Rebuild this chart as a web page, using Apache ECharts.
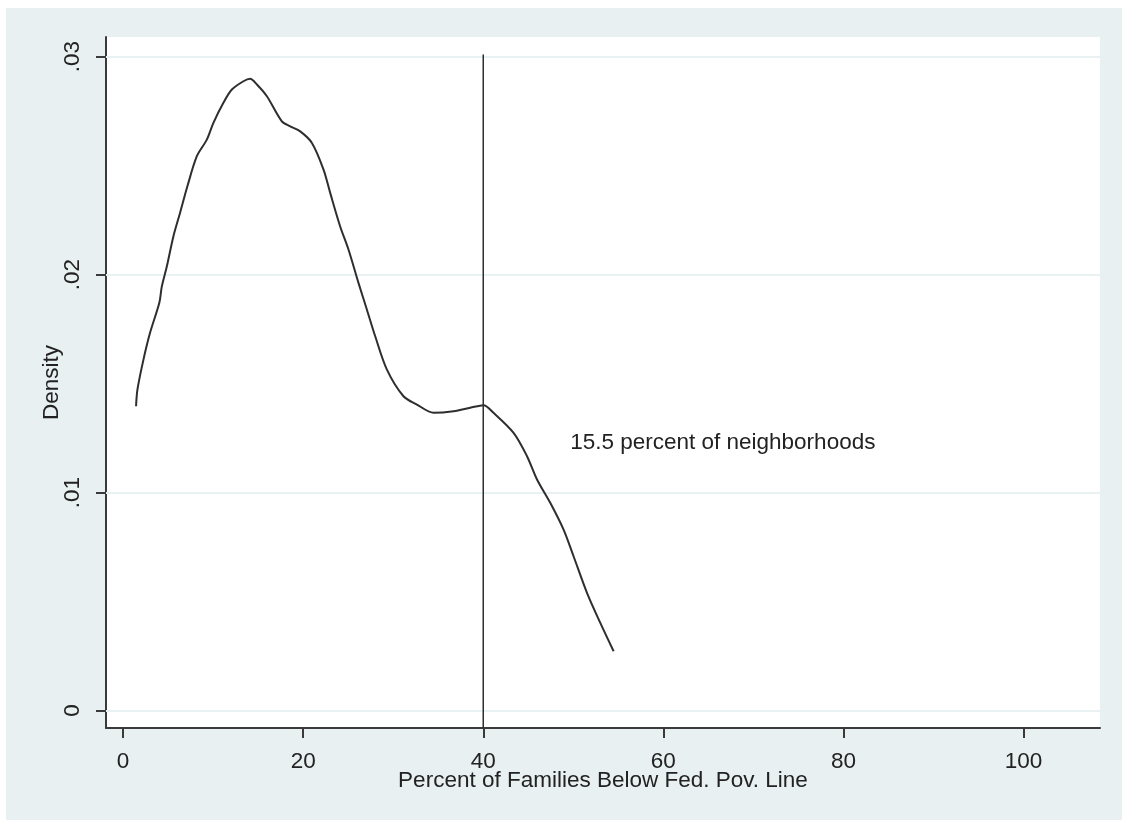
<!DOCTYPE html>
<html>
<head>
<meta charset="utf-8">
<script src="https://cdn.jsdelivr.net/npm/echarts@6/dist/echarts.min.js"></script>
<style>
html,body{margin:0;padding:0;background:#fff;}
#bg{position:absolute;left:6px;top:8px;width:1116px;height:812px;background:#e8f0f2;}
#chart{position:absolute;left:0;top:0;width:1122px;height:820px;}
</style>
</head>
<body>
<div id="bg"></div>
<div id="chart"></div>
<script>
// Kernel density estimate: percent of families below federal poverty line
const densityX = [1.44,1.59,2.26,3.0,4.03,4.3,4.86,5.59,6.33,7.14,8.19,9.3,10.03,11.14,12.08,13.37,14.11,14.86,15.97,17.63,18.56,19.67,20.97,22.26,23.0,24.1,25.03,26.14,27.08,28.0,29.3,31.14,32.63,34.48,36.7,38.56,40.03,41.14,43.37,44.86,45.97,47.44,48.92,50.03,51.52,53.0,54.48];
const densityY = [0.01396,0.01472,0.01610,0.01734,0.01872,0.01946,0.02038,0.02176,0.02284,0.02405,0.02543,0.02619,0.02696,0.02788,0.02849,0.02887,0.02898,0.02872,0.02818,0.02703,0.02680,0.02657,0.02604,0.02482,0.02375,0.02222,0.02115,0.01962,0.01839,0.01717,0.01564,0.01442,0.01404,0.01366,0.01373,0.01389,0.01401,0.01366,0.01274,0.01167,0.01060,0.00953,0.00830,0.00708,0.00540,0.00402,0.00272];
const xTicks = [0, 20, 40, 60, 80, 100];
const yTicks = [0, 0.01, 0.02, 0.03];
const cutoffX = 40;
const cutoffTop = 0.0301;
const annotationText = '15.5 percent of neighborhoods';
const annotationPos = [49.6, 0.0123];
const xTitle = 'Percent of Families Below Fed. Pov. Line';
const yTitle = 'Density';

const xMin = -1.9, xMax = 108.5, yMin = -0.0008, yMax = 0.0309;
const FONT = '"Liberation Sans", Arial, sans-serif';
const TXT = '#222222';
const FS = 22.5;

const chart = echarts.init(document.getElementById('chart'), null, {renderer: 'canvas'});
const curve = densityX.map((x, i) => [x, densityY[i]]);

chart.setOption({
  animation: false,
  backgroundColor: 'transparent',
  textStyle: {fontFamily: FONT},
  grid: {left: 106, right: 22, top: 37, bottom: 92, show: true, backgroundColor: '#ffffff', borderWidth: 0},
  xAxis: {
    type: 'value', min: xMin, max: xMax,
    name: xTitle, nameLocation: 'middle', nameGap: 41, nameMoveOverlap: false,
    nameTextStyle: {fontFamily: FONT, fontSize: FS, color: TXT},
    axisLine: {show: true, onZero: false, lineStyle: {color: '#3a3a3a', width: 2}},
    axisTick: {show: true, length: 10, customValues: xTicks, lineStyle: {color: '#3a3a3a', width: 2}},
    axisLabel: {customValues: xTicks, margin: 22, fontFamily: FONT, fontSize: FS, color: TXT},
    splitLine: {show: false}
  },
  yAxis: {
    type: 'value', min: yMin, max: yMax,
    name: yTitle, nameLocation: 'middle', nameGap: 43, nameMoveOverlap: false,
    nameTextStyle: {fontFamily: FONT, fontSize: FS, color: TXT},
    axisLine: {show: true, onZero: false, lineStyle: {color: '#3a3a3a', width: 2}},
    axisTick: {show: true, length: 10, customValues: yTicks, lineStyle: {color: '#3a3a3a', width: 2}},
    axisLabel: {customValues: yTicks, rotate: 90, margin: 22, fontFamily: FONT, fontSize: FS, color: TXT,
      formatter: v => v === 0 ? '0' : v.toFixed(2).replace(/^0/, '')},
    splitLine: {show: false}
  },
  series: [
    {
      type: 'line', data: [], z: 1, silent: true,
      markLine: {
        silent: true, symbol: 'none', label: {show: false}, z: 1,
        lineStyle: {color: '#eaf1f3', width: 2, type: 'solid'},
        data: yTicks.map(v => ({yAxis: v}))
      }
    },
    {
      type: 'line', data: curve, showSymbol: false, smooth: 0.3,
      lineStyle: {color: '#2e2e2e', width: 2}, z: 5
    },
    {
      type: 'line', data: [[cutoffX, yMin], [cutoffX, cutoffTop]], showSymbol: false,
      lineStyle: {color: '#2e2e2e', width: 1.5}, z: 4
    },
    {
      type: 'scatter', data: [annotationPos], symbolSize: 1, itemStyle: {color: 'rgba(0,0,0,0)'}, z: 6,
      label: {show: true, position: 'right', distance: 0, formatter: annotationText,
        fontFamily: FONT, fontSize: FS, color: TXT, opacity: 1}
    }
  ]
});
</script>
</body>
</html>
